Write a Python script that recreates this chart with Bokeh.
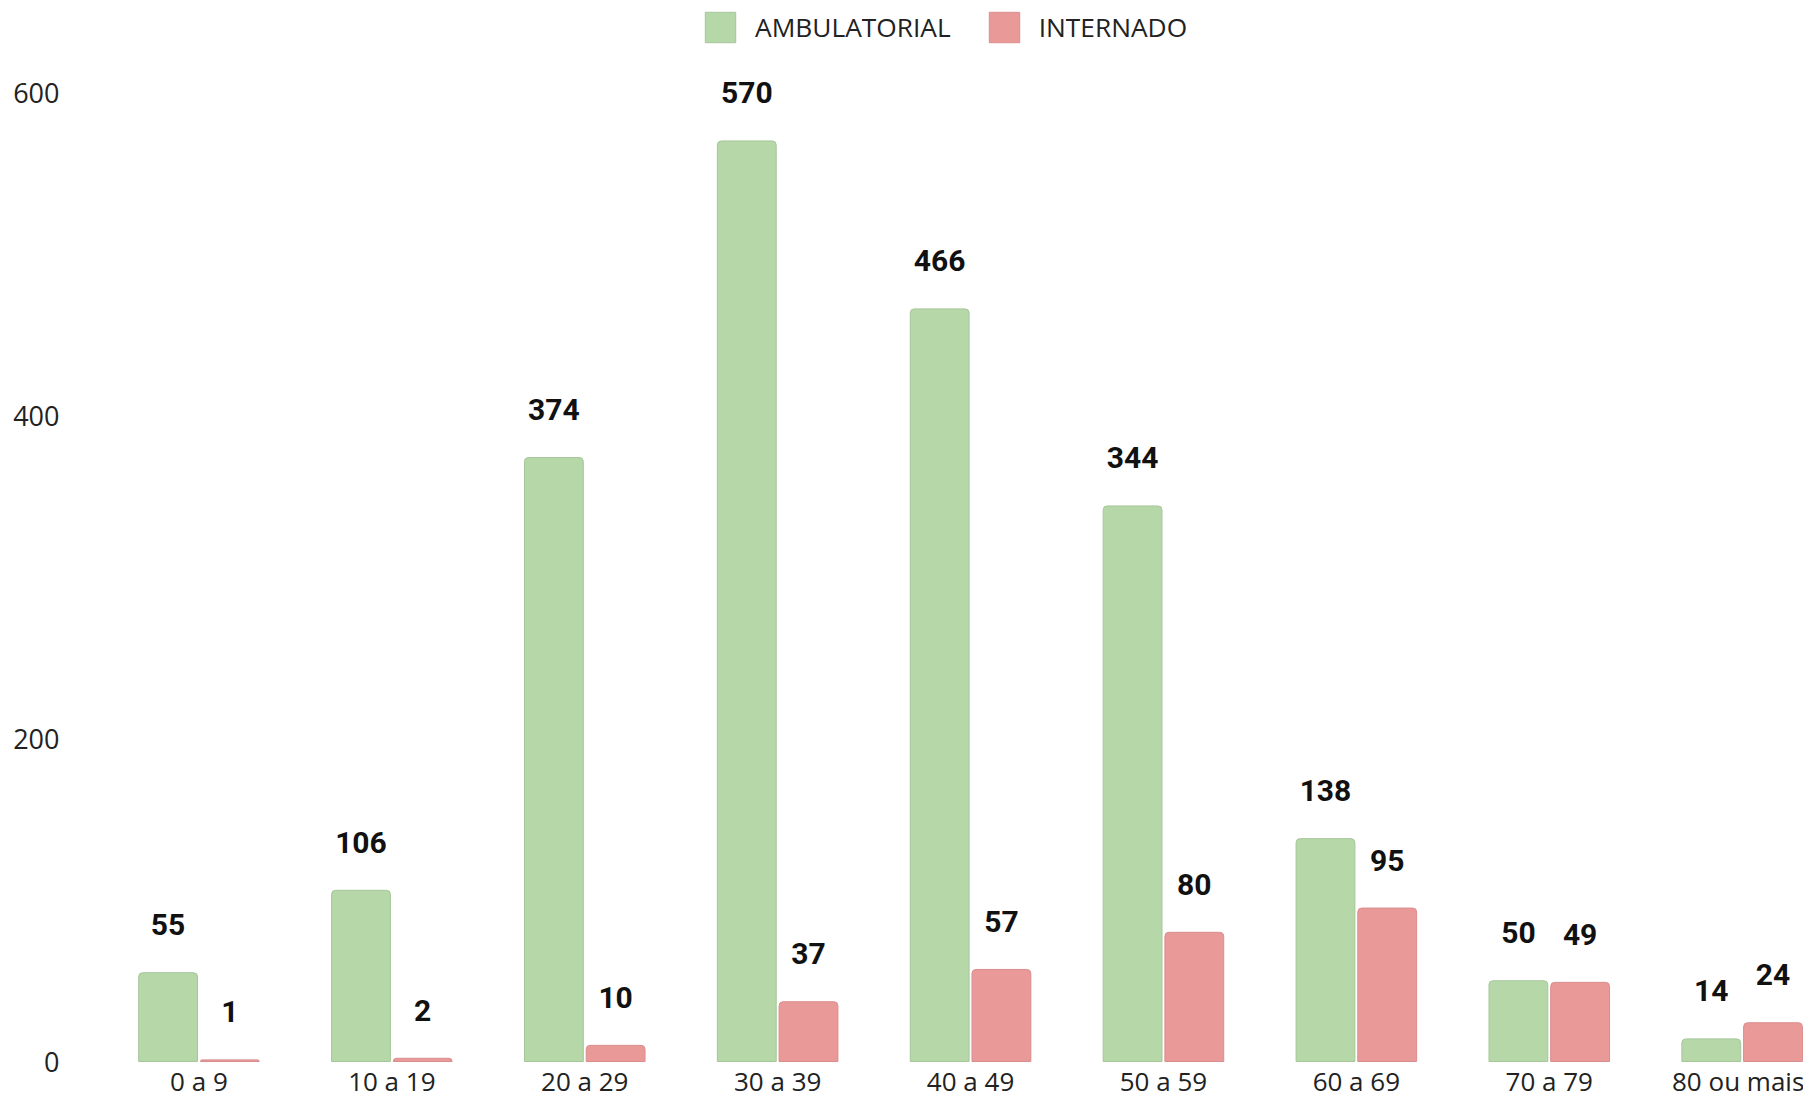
from bokeh.plotting import figure
from bokeh.models import Range1d, FixedTicker, Legend, LegendItem, ColumnDataSource, LabelSet
from bokeh.core.properties import value
from bokeh.embed import file_html
from bokeh.resources import INLINE

categories = ["0 a 9", "10 a 19", "20 a 29", "30 a 39", "40 a 49",
              "50 a 59", "60 a 69", "70 a 79", "80 ou mais"]
ambulatorial = [55, 106, 374, 570, 466, 344, 138, 50, 14]
internado = [1, 2, 10, 37, 57, 80, 95, 49, 24]
series_names = ["AMBULATORIAL", "INTERNADO"]
y_ticks = [0, 200, 400, 600]

GREEN = "#b6d7a8"
RED = "#ea9999"
TEXT = "#222222"

W, H = 1803, 1099
FRAME_LEFT = 102
PX_PER_CAT = 192.9
PX_PER_UNIT = 1.615
ZERO_Y = 1061          # pixel row of the baseline inside the figure

x_end = (W - FRAME_LEFT) / PX_PER_CAT
y_start = -(H - ZERO_Y) / PX_PER_UNIT
y_end = ZERO_Y / PX_PER_UNIT

p = figure(width=W, height=H, output_backend="svg", toolbar_location=None,
           x_range=Range1d(0, x_end), y_range=Range1d(y_start, y_end),
           x_axis_location=None,
           min_border_left=FRAME_LEFT, min_border_right=0,
           min_border_top=0, min_border_bottom=0)
p.outline_line_color = None
p.grid.visible = False
p.background_fill_color = "white"
p.border_fill_color = "white"

n = len(categories)
xc = [i + 0.5 for i in range(n)]
off = 0.16
bw = 0.305
src = ColumnDataSource(dict(
    xg=[x - off for x in xc], xr=[x + off for x in xc],
    amb=ambulatorial, inte=internado,
    amb_t=[str(v) for v in ambulatorial], inte_t=[str(v) for v in internado],
))

r1 = p.vbar(x="xg", top="amb", width=bw, source=src, fill_color=GREEN,
            line_color="#a6c69a", line_width=1, border_radius=(4, 4, 0, 0))
r2 = p.vbar(x="xr", top="inte", width=bw, source=src, fill_color=RED,
            line_color="#d98d8d", line_width=1, border_radius=(4, 4, 0, 0))

# value labels above the bars
for xcol, ycol, tcol in (("xg", "amb", "amb_t"), ("xr", "inte", "inte_t")):
    ls = LabelSet(x=xcol, y=ycol, text=tcol, source=src, y_offset=48,
                  text_align="center", text_baseline="middle",
                  text_font=value("Roboto"), text_font_style="bold",
                  text_font_size="30px", text_color="#111111")
    p.add_layout(ls)

# category labels under the baseline
cat_src = ColumnDataSource(dict(
    x=xc, y=[0] * n, text=categories,
    dx=[0] * (n - 1) + [-4],
))
cat_labels = LabelSet(x="x", y="y", text="text", source=cat_src, y_offset=-19,
                      x_offset="dx",
                      text_align="center", text_baseline="middle",
                      text_font=value("Open Sans"), text_font_size="26px",
                      text_color=TEXT)
p.add_layout(cat_labels)

# y axis
p.yaxis.ticker = FixedTicker(ticks=y_ticks)
p.yaxis.axis_line_color = None
p.yaxis.major_tick_line_color = None
p.yaxis.minor_tick_line_color = None
p.yaxis.major_tick_out = 0
p.yaxis.major_tick_in = 0
p.yaxis.minor_tick_out = 0
p.yaxis.major_label_standoff = 43
p.yaxis.major_label_text_font = "Open Sans"
p.yaxis.major_label_text_font_size = "27px"
p.yaxis.major_label_text_color = TEXT
p.yaxis.major_label_text_align = "right"

legend = Legend(items=[LegendItem(label=series_names[0], renderers=[r1]),
                       LegendItem(label=series_names[1], renderers=[r2])],
                orientation="horizontal", location=(599, 1053),
                glyph_width=38, glyph_height=38, label_standoff=16, spacing=34,
                padding=0, margin=0, border_line_color=None, background_fill_alpha=0,
                label_text_font="Open Sans", label_text_font_size="26.3px",
                label_text_color=TEXT)
p.add_layout(legend)

open("out.html", "w").write(file_html(p, INLINE))
